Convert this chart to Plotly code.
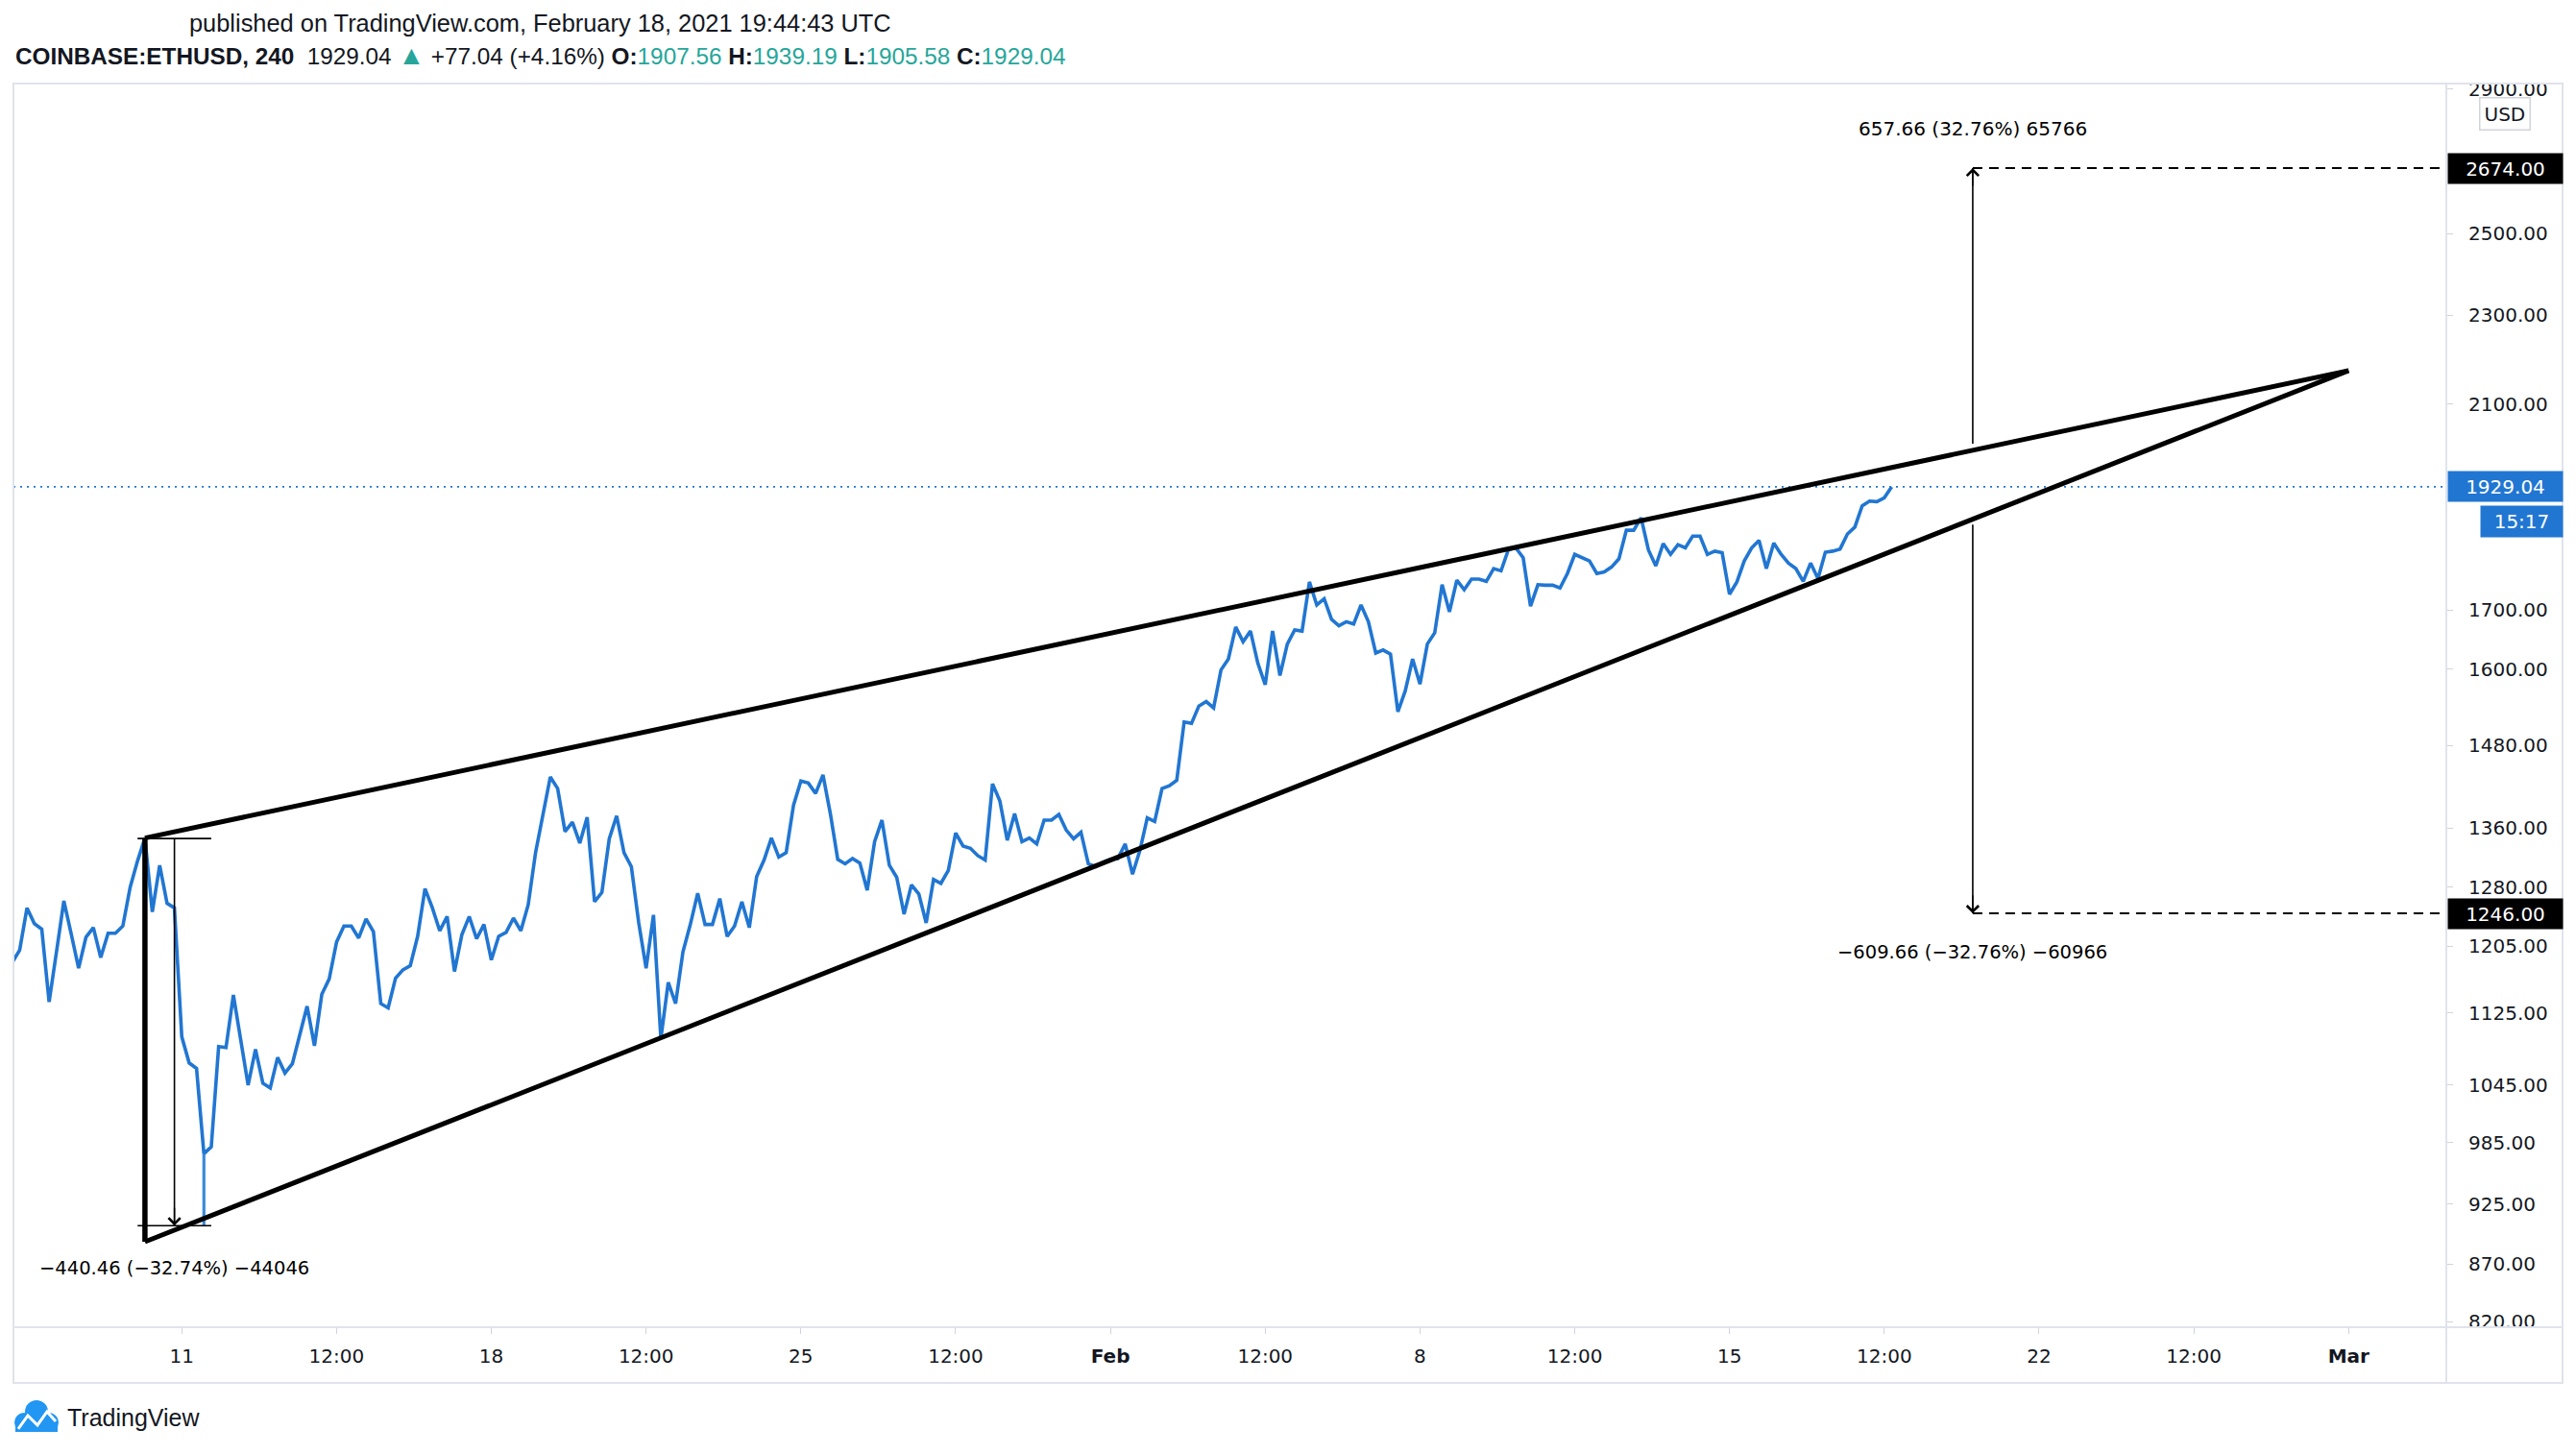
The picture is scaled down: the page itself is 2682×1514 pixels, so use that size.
import numpy as np
import pandas as pd
import plotly.graph_objects as go

# ---------------- data: COINBASE:ETHUSD 4h closes ----------------
START = "2021-01-07 04:00"
closes_w1 = [1185, 1200, 1253, 1233, 1226, 1138, 1198, 1262, 1220, 1178, 1216, 1228, 1191, 1221,
             1221, 1230, 1280, 1315, 1346, 1248, 1309, 1259, 1253, 1098, 1069, 1063, 974, 981,
             1087, 1086, 1146, 1095, 1045, 1084, 1047, 1042, 1075, 1058, 1068, 1100, 1133, 1088]
closes_w2 = [1147, 1165, 1210, 1230, 1230, 1215, 1239, 1223, 1136, 1131, 1166, 1176, 1181, 1217,
             1278, 1253, 1224, 1242, 1174, 1219, 1242, 1214, 1232, 1188, 1217, 1222, 1240, 1224,
             1257, 1326, 1378, 1433, 1416, 1355, 1368, 1339, 1375, 1261, 1273, 1345, 1377, 1326]
closes_w3 = [1307, 1234, 1178, 1244, 1096, 1161, 1136, 1198, 1232, 1272, 1232, 1232, 1265, 1217,
             1230, 1261, 1228, 1294, 1316, 1346, 1320, 1326, 1392, 1427, 1424, 1409, 1436, 1380,
             1317, 1311, 1318, 1312, 1276, 1341, 1371, 1309, 1293, 1245, 1283, 1271, 1234, 1290]
closes_w4 = [1285, 1302, 1353, 1335, 1332, 1322, 1316, 1423, 1398, 1343, 1380, 1341, 1346, 1338,
             1371, 1371, 1379, 1357, 1345, 1354, 1311, 1307, 1313, 1317, 1318, 1338, 1297, 1329,
             1374, 1369, 1416, 1420, 1428, 1516, 1514, 1541, 1548, 1538, 1599, 1617, 1671, 1646]
closes_w5 = [1664, 1610, 1575, 1664, 1590, 1642, 1666, 1664, 1750, 1709, 1720, 1684, 1673, 1680,
             1676, 1709, 1680, 1627, 1632, 1625, 1532, 1565, 1617, 1576, 1642, 1661, 1745, 1697,
             1753, 1736, 1755, 1755, 1751, 1774, 1770, 1809, 1812, 1794, 1707, 1745, 1744, 1744]
closes_w6 = [1739, 1765, 1800, 1794, 1788, 1765, 1768, 1777, 1792, 1845, 1845, 1869, 1808, 1779,
             1820, 1800, 1818, 1812, 1834, 1834, 1800, 1806, 1803, 1728, 1750, 1788, 1812, 1826,
             1774, 1821, 1800, 1784, 1774, 1751, 1784, 1756, 1804, 1806, 1810, 1838, 1851, 1892]
closes_w7 = [1901, 1900, 1907.56, 1929.04]

closes = closes_w1 + closes_w2 + closes_w3 + closes_w4 + closes_w5 + closes_w6 + closes_w7
times = pd.date_range(START, periods=len(closes), freq="4h")

# header values
symbol = "COINBASE:ETHUSD, 240"
last_price = 1929.04
change_text = "+77.04 (+4.16%)"
ohlc_names = ["O:", "H:", "L:", "C:"]
ohlc_values = ["1907.56", "1939.19", "1905.58", "1929.04"]
published = "published on TradingView.com, February 18, 2021 19:44:43 UTC"
countdown = "15:17"

# axis ticks (2700 and 1900 are hidden behind the price labels in the original)
y_ticks = [820, 870, 925, 985, 1045, 1125, 1205, 1280, 1360, 1480, 1600, 1700, 2100, 2300, 2500, 2900]
x_tick_dates = ["2021-01-11", "2021-01-14 12:00", "2021-01-18", "2021-01-21 12:00", "2021-01-25",
                "2021-01-28 12:00", "2021-02-01", "2021-02-04 12:00", "2021-02-08", "2021-02-11 12:00",
                "2021-02-15", "2021-02-18 12:00", "2021-02-22", "2021-02-25 12:00", "2021-03-01"]
x_tick_text = ["11", "12:00", "18", "12:00", "25", "12:00", "<b>Feb</b>", "12:00", "8", "12:00",
               "15", "12:00", "22", "12:00", "<b>Mar</b>"]
x_range = ["2021-01-07 04:38", "2021-03-03 05:02"]
y_range = [815.4, 2916]

# rising wedge drawing
wedge_start = "2021-01-10 04:00"
wedge_apex = "2021-03-01 00:00"
wedge_upper_start = 1346
wedge_lower_start = 890
wedge_apex_price = 2173

# left price-range measurement
meas1_from = "2021-01-10 00:00"
meas1_to = "2021-01-11 16:00"
meas1_mid = "2021-01-10 20:00"
meas1_high = 1345.30
meas1_low = 904.84
meas1_label = "\u2212440.46 (\u221232.74%) \u221244046"
spike_time = "2021-01-11 12:00"
spike_top = 974

# right projections
proj_time = "2021-02-20 12:00"
proj_up_from, proj_up_to = 2016.34, 2674.00
proj_dn_from, proj_dn_to = 1855.66, 1246.00
proj_up_label = "657.66 (32.76%) 65766"
proj_dn_label = "\u2212609.66 (\u221232.76%) \u221260966"

# ---------------- styling / layout geometry (window pixels) ----------------
OFF = 8                      # page body margin
WIN_W, WIN_H = 2682, 1514
L, R, T, B = 14, 2547, 87, 1382
FR, FB = 2668, 1440

def px_x(p):
    return (p - L) / (R - L)

def px_y(p):
    return (B - p) / (B - T)

LINE_BLUE = "#2176d2"
TEAL = "#26a69a"
TXT = "#131722"
BORDER = "#e0e3eb"
AX_FONT = "DejaVu Sans"
HDR_FONT = "Liberation Sans"

fig = go.Figure()

def seg(x, y, color="black", width=1.5, dash=None):
    fig.add_trace(go.Scatter(x=x, y=y, mode="lines", hoverinfo="skip",
                             line=dict(color=color, width=width, dash=dash)))

# price line
seg(times, closes, LINE_BLUE, 3.6)
# current price dotted line
seg(x_range, [last_price, last_price], LINE_BLUE, 1.6, "2px,5px")
# blue spike down to the measured low
seg([spike_time, spike_time], [spike_top, meas1_low], "#3a8ad8", 3.2)
# wedge
seg([wedge_start, wedge_apex], [wedge_upper_start, wedge_apex_price], "black", 5)
seg([wedge_start, wedge_apex], [wedge_lower_start, wedge_apex_price], "black", 5)
seg([wedge_start, wedge_start], [wedge_upper_start, wedge_lower_start], "black", 5.5)
# left measurement lines
for lvl in (meas1_high, meas1_low):
    seg([meas1_from, meas1_to], [lvl, lvl], "black", 1.6)
seg([meas1_mid, meas1_mid], [meas1_high, meas1_low], "black", 1.6)
# right projections
seg([proj_time, proj_time], [proj_up_from, proj_up_to], "black", 1.6)
seg([proj_time, proj_time], [proj_dn_from, proj_dn_to], "black", 1.6)
for lvl in (proj_up_to, proj_dn_to):
    seg([proj_time, x_range[1]], [lvl, lvl], "black", 2, "10px,7px")

annotations = []

def note(**kw):
    kw.setdefault("showarrow", False)
    kw.setdefault("xanchor", "center")
    kw.setdefault("yanchor", "middle")
    annotations.append(kw)

# arrow heads
for (xx, yy, ay) in [(meas1_mid, meas1_low, -20), (proj_time, proj_up_to, 20), (proj_time, proj_dn_to, -20)]:
    note(x=xx, y=np.log10(yy), xref="x", yref="y", text="", showarrow=True,
         ax=0, ay=ay, arrowhead=4, arrowsize=1.7, arrowwidth=1.4, arrowcolor="black", standoff=0)
# measurement labels
note(x=meas1_mid, y=np.log10(meas1_low), xref="x", yref="y", text=meas1_label,
     yshift=-44, font=dict(family=AX_FONT, size=19.5, color="black"))
note(x=proj_time, y=np.log10(proj_up_to), xref="x", yref="y", text=proj_up_label,
     yshift=41, font=dict(family=AX_FONT, size=20, color="black"))
note(x=proj_time, y=np.log10(proj_dn_to), xref="x", yref="y", text=proj_dn_label,
     yshift=-40, font=dict(family=AX_FONT, size=19.5, color="black"))
# price scale labels
for val, bg in [(proj_up_to, "black"), (proj_dn_to, "black"), (last_price, LINE_BLUE)]:
    note(x=px_x(2608.5), y=np.log10(val), xref="paper", yref="y",
         text=f"{val:.2f}", bgcolor=bg, width=119, height=31, borderpad=0,
         font=dict(family=AX_FONT, size=20, color="white"))
note(x=px_x(2625.5), y=px_y(543), xref="paper", yref="paper", text=countdown,
     bgcolor=LINE_BLUE, width=85, height=32, borderpad=0,
     font=dict(family=AX_FONT, size=20, color="white"))
note(x=px_x(2608), y=px_y(118), xref="paper", yref="paper", text="USD",
     bgcolor="white", bordercolor="#d1d4dc", borderwidth=1.5, borderpad=4,
     font=dict(family=AX_FONT, size=20, color=TXT))
# header
note(x=px_x(195), y=px_y(24), xref="paper", yref="paper", text=published, xanchor="left",
     font=dict(family=HDR_FONT, size=25.4, color=TXT))
ohlc_html = " ".join(f"<b>{n}</b><span style='color:{TEAL}'>{v}</span>" for n, v in zip(ohlc_names, ohlc_values))
hdr2 = (f"<b>{symbol}</b>\u00a0 {last_price:.2f} <span style='color:{TEAL};font-size:28px'>\u25b2</span> "
        f"{change_text} {ohlc_html}")
note(x=px_x(14), y=px_y(58), xref="paper", yref="paper", text=hdr2, xanchor="left",
     font=dict(family=HDR_FONT, size=24.3, color=TXT))
# logo text
note(x=px_x(68), y=px_y(1476), xref="paper", yref="paper", text="TradingView", xanchor="left",
     font=dict(family=HDR_FONT, size=25, color=TXT))

shapes = []
# white covers to clip price labels outside the pane
shapes.append(dict(type="rect", xref="paper", yref="paper", x0=1.0, x1=px_x(FR), y0=1.0, y1=px_y(40),
                   fillcolor="white", line=dict(width=0), layer="above"))
shapes.append(dict(type="rect", xref="paper", yref="paper", x0=1.0, x1=px_x(FR), y0=px_y(FB), y1=0.0,
                   fillcolor="white", line=dict(width=0), layer="above"))
# frame
shapes.append(dict(type="rect", xref="paper", yref="paper", x0=0, x1=px_x(FR), y0=px_y(FB), y1=1,
                   line=dict(color=BORDER, width=2), layer="above"))
shapes.append(dict(type="line", xref="paper", yref="paper", x0=1, x1=1, y0=px_y(FB), y1=1,
                   line=dict(color=BORDER, width=2), layer="above"))
shapes.append(dict(type="line", xref="paper", yref="paper", x0=0, x1=px_x(FR), y0=0, y1=0,
                   line=dict(color=BORDER, width=2), layer="above"))
# logo icon
LOGO = "#2196f3"
for cx, cy, r in [(38, 1470, 12), (25, 1481, 10), (51, 1481, 10)]:
    shapes.append(dict(type="circle", xref="paper", yref="paper", x0=px_x(cx - r), x1=px_x(cx + r),
                       y0=px_y(cy + r), y1=px_y(cy - r), fillcolor=LOGO, line=dict(width=0), layer="above"))
shapes.append(dict(type="rect", xref="paper", yref="paper", x0=px_x(16), x1=px_x(60), y0=px_y(1491),
                   y1=px_y(1479), fillcolor=LOGO, line=dict(width=0), layer="above"))
pts = [(19, 1488), (29, 1474), (39, 1484), (49, 1470), (58, 1480)]
path = "M " + " L ".join(f"{px_x(a):.5f},{px_y(b):.5f}" for a, b in pts)
shapes.append(dict(type="path", xref="paper", yref="paper", path=path,
                   line=dict(color="white", width=3), layer="above"))

fig.update_layout(
    width=WIN_W - OFF, height=WIN_H - OFF,
    margin=dict(l=L - OFF, r=WIN_W - R, t=T - OFF, b=WIN_H - B, pad=0),
    paper_bgcolor="white", plot_bgcolor="white",
    showlegend=False,
    font=dict(family=AX_FONT, size=20, color=TXT),
    xaxis=dict(type="date", range=x_range, showgrid=False, zeroline=False, showline=False,
               tickvals=x_tick_dates, ticktext=x_tick_text, ticks="outside", ticklen=6,
               tickcolor="#d1d4dc", tickwidth=1, ticklabelstandoff=6,
               tickfont=dict(family=AX_FONT, size=20, color=TXT)),
    yaxis=dict(type="log", range=[np.log10(y_range[0]), np.log10(y_range[1])], side="right",
               showgrid=False, zeroline=False, showline=False,
               tickvals=y_ticks, ticktext=[f"{v:.2f}" for v in y_ticks], ticks="outside",
               ticklen=6, tickcolor="#d1d4dc", tickwidth=1, ticklabelstandoff=12,
               tickfont=dict(family=AX_FONT, size=20, color=TXT)),
    annotations=annotations,
    shapes=shapes,
)

fig.write_html("out.html")
